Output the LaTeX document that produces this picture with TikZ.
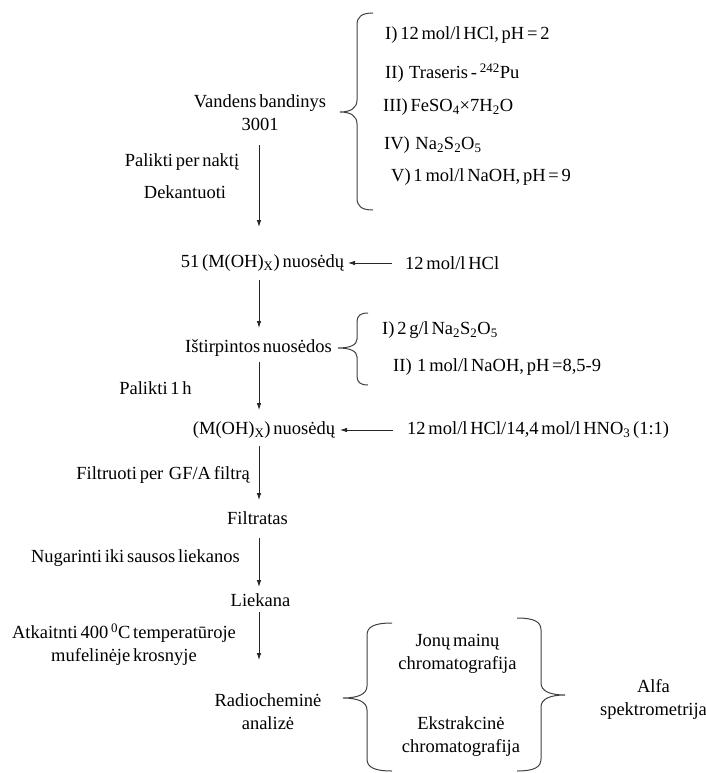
\documentclass[tikz,border=0pt]{standalone}
\usepackage{fontspec}
\setmainfont{Liberation Serif}[WordSpace=0.6]
\usetikzlibrary{arrows.meta}
\newcommand*{\curly}[7]{% ends x, line x, tip x, top y, tip y, bottom y, curl
  \draw[brc] (#1,#4) .. controls ({0.7*#2+0.3*#1},#4) and (#2,{#4+0.3*#7}) .. (#2,{#4+#7})
    -- (#2,{#5-#7}) .. controls (#2,{#5-0.3*#7}) and ({0.6*#2+0.4*#3},#5) .. (#3,#5)
    .. controls ({0.6*#2+0.4*#3},#5) and (#2,{#5+0.3*#7}) .. (#2,{#5+#7})
    -- (#2,{#6-#7}) .. controls (#2,{#6-0.3*#7}) and ({0.7*#2+0.3*#1},#6) .. (#1,#6);}

\begin{document}
\begin{tikzpicture}[x=1pt, y=-1pt]
      \useasboundingbox (0,0) rectangle (706,773);
      \tikzstyle{arr}=[-{Latex[length=7pt, width=4.5pt]}, line width=0.8pt, draw=black!85]
      \tikzstyle{brc}=[line width=1pt, draw=black!75]

      {\tikzstyle{every node}=[inner sep=0pt, align=center, font=\fontsize{18.5}{23}\selectfont]
        \node (vb) at (260, 112.5) {Vandens bandinys\\3001};
        \node (pn) at (182, 162) {Palikti per naktį};
        \node (dk) at (185, 192) {Dekantuoti};
        \node (n51) at (262.5, 263) {51 (M(OH)\textsubscript{X}) nuosėdų};
        \node[anchor=west] (hcl) at (405, 263) {12 mol/l HCl};
        \node (isn) at (258.5, 348) {Ištirpintos nuosėdos};
        \node (p1h) at (155.5, 388) {Palikti 1 h};
        \node (mo) at (264, 430) {(M(OH)\textsubscript{X}) nuosėdų};
        \node[anchor=west] (mix) at (407, 430) {12 mol/l HCl/14,4 mol/l HNO\textsubscript{3} (1:1)};
        \node[anchor=east] (ff) at (250, 475) {Filtruoti per~ GF/A filtrą};
        \node (ft) at (257.5, 518) {Filtratas};
        \node[anchor=east] (ng) at (240, 558) {Nugarinti iki sausos liekanos};
        \node (lk) at (260.5, 600) {Liekana};
        \node (at) at (124, 645) {Atkaitnti 400 \textsuperscript{0}C temperatūroje\\mufelinėje krosnyje};
        \node (ra) at (268, 711.5) {Radiocheminė\\analizė};
        \node (jm) at (457.5, 653.5) {Jonų mainų\\chromatografija};
        \node (ek) at (461, 736.5) {Ekstrakcinė\\chromatografija};
        \node (af) at (653.5, 699) {Alfa\\spektrometrija};

        \foreach \x/\y/\t [count=\k] in {385/35/{I) 12 mol/l HCl, pH = 2},
          385/73/{II)\ \ Traseris - \textsuperscript{242}Pu},
          383/107/{III) FeSO\textsubscript{4}×7H\textsubscript{2}O},
          384/145/{IV)\ \ Na\textsubscript{2}S\textsubscript{2}O\textsubscript{5}},
          391/177/{V) 1 mol/l NaOH, pH = 9}}
        {
          \node[anchor=west] (r\k) at (\x, \y) {\t};
        }

        \node[anchor=west] (q1) at (382, 330) {I) 2 g/l Na\textsubscript{2}S\textsubscript{2}O\textsubscript{5}};
        \node[anchor=west] (q2) at (393, 367) {II)\ \ 1 mol/l NaOH, pH =8,5-9};
      }

      \coordinate (ax) at (259, 0);
      \foreach \a/\b/\s/\e in {vb/n51/32.5pt/36pt, n51/isn/17pt/20pt, isn/mo/14pt/20pt,
        mo/ft/16pt/18pt, ft/lk/20pt/13pt, lk/ra/12pt/51.5pt}
      {
        \draw[arr, shorten <=\s, shorten >=\e] (\a.center -| ax) -- (\b.center -| ax);
      }

      \draw[arr, shorten <=13pt, shorten >=85.5pt] (hcl.west) -- (n51.center |- hcl.west);
      \draw[arr, shorten <=14pt, shorten >=76pt] (mix.west) -- (mo.center |- mix.west);

      \curly{373}{357}{340}{13}{112}{210}{12}
      \curly{368}{357}{338}{313}{348}{385}{9}
      \curly{392}{367}{343}{623}{698}{771}{12}
      \curly{517}{541}{565}{618}{695}{771}{12}
    \end{tikzpicture}
\end{document}
